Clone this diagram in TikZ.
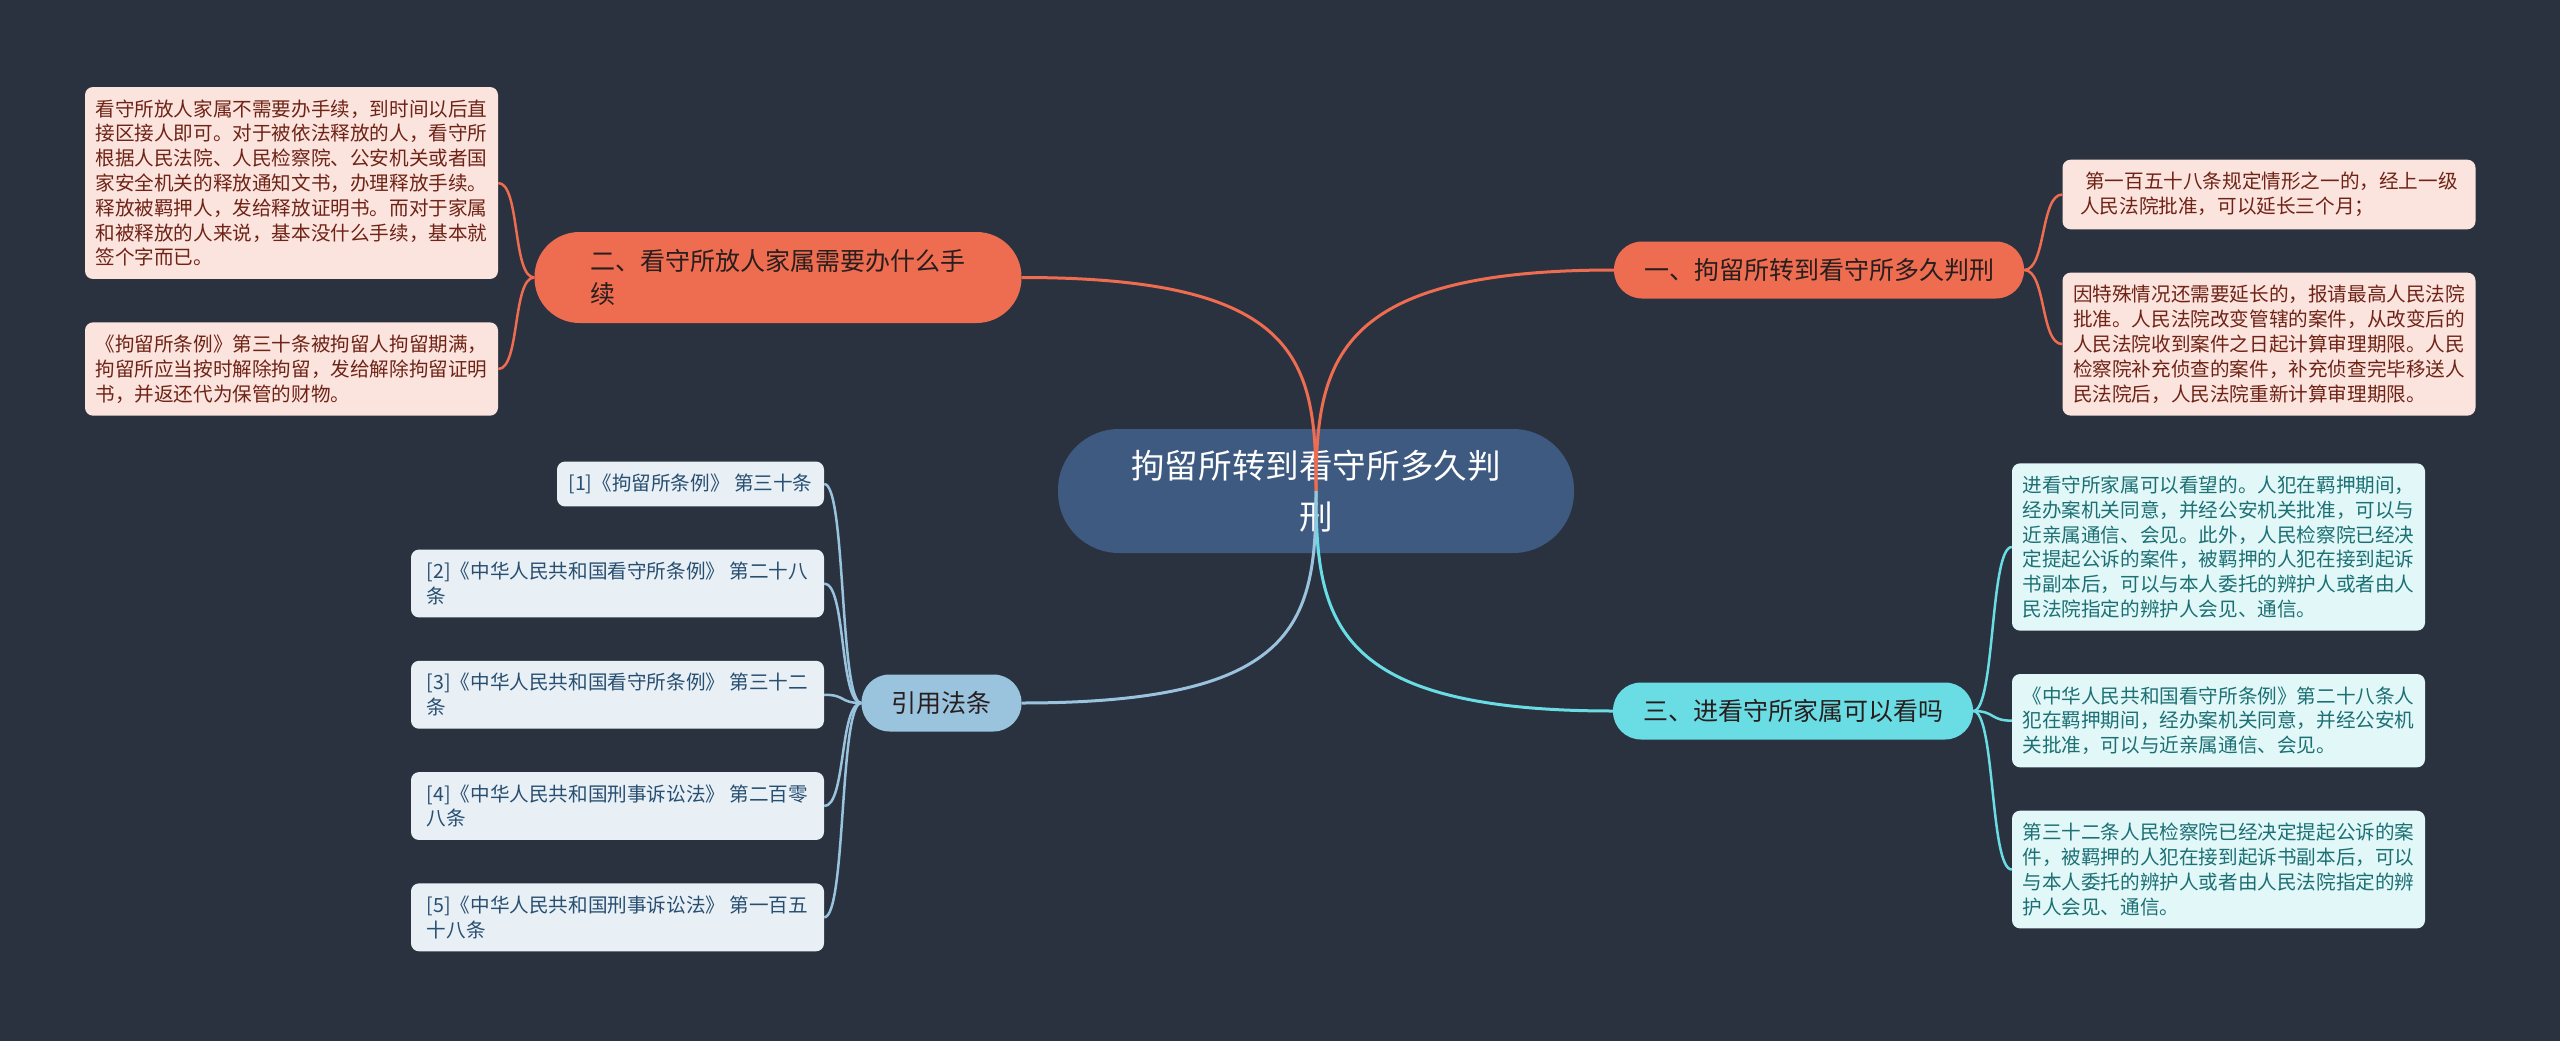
\documentclass[tikz,border=0pt]{standalone}
\usepackage{fontspec}
\setmainfont{Noto Sans CJK SC}
\usepackage{xcolor}
\usepackage{tikz}
\usetikzlibrary{positioning}
\definecolor{bgnavy}{RGB}{42,50,64}
\definecolor{rootblue}{RGB}{62,90,128}
\definecolor{coralorange}{RGB}{238,108,80}
\definecolor{coralpale}{RGB}{252,228,222}
\definecolor{coraltext}{RGB}{110,35,22}
\definecolor{aquacyan}{RGB}{106,220,228}
\definecolor{aquapale}{RGB}{226,247,248}
\definecolor{aquatext}{RGB}{28,112,116}
\definecolor{skyblue}{RGB}{154,195,222}
\definecolor{skypale}{RGB}{232,240,246}
\definecolor{skytext}{RGB}{40,78,112}
\definecolor{darkink}{RGB}{40,30,30}

\begin{document}
\begin{tikzpicture}[x=1pt, y=-1pt, node distance=43pt]
  \tikzstyle{branch} = [rectangle, rounded corners=28pt, minimum height=57pt, inner xsep=30pt, inner ysep=0pt, text=darkink, font=\fontsize{25pt}{33pt}\selectfont]
  \tikzstyle{leaf} = [rectangle, rounded corners=8pt, minimum width=413pt, inner xsep=10pt, inner ysep=12.5pt, align=left, font=\fontsize{19.6pt}{24.8pt}\selectfont]
  \tikzstyle{link} = [line width=3pt]
  \tikzstyle{twig} = [line width=2.5pt]

  \fill [bgnavy] (0,0) rectangle (2560,1041);
  \useasboundingbox (0,0) rectangle (2560,1041);

  \node (root) [rectangle, fill=rootblue, text=white, rounded corners=61pt, minimum width=516pt, minimum height=124pt, align=center, font=\fontsize{33.6pt}{51pt}\selectfont] at (1316,491) {拘留所转到看守所多久判\\刑};

  \node (branch1) [branch, fill=coralorange] at (1819,270) {一、拘留所转到看守所多久判刑};
  \node (branch2) [branch, fill=coralorange, minimum width=487pt, minimum height=91pt, rounded corners=45pt, align=left] at (778,277.5) {二、看守所放人家属需要办什么手\\续};
  \node (branch3) [branch, fill=aquacyan] at (1793,711) {三、进看守所家属可以看吗};
  \node (branch4) [branch, fill=skyblue] at (941.5,703) {引用法条};

  \node (leaf1a) [leaf, fill=coralpale, text=coraltext] at (2269,194.5) {\hspace*{5pt}第一百五十八条规定情形之一的，经上一级\\人民法院批准，可以延长三个月；};
  \node (leaf1b) [leaf, fill=coralpale, text=coraltext, below=of leaf1a] {因特殊情况还需要延长的，报请最高人民法院\\批准。人民法院改变管辖的案件，从改变后的\\人民法院收到案件之日起计算审理期限。人民\\检察院补充侦查的案件，补充侦查完毕移送人\\民法院后，人民法院重新计算审理期限。};

  \node (leaf2a) [leaf, fill=coralpale, text=coraltext] at (291.5,183) {看守所放人家属不需要办手续，到时间以后直\\接区接人即可。对于被依法释放的人，看守所\\根据人民法院、人民检察院、公安机关或者国\\家安全机关的释放通知文书，办理释放手续。\\释放被羁押人，发给释放证明书。而对于家属\\和被释放的人来说，基本没什么手续，基本就\\签个字而已。};
  \node (leaf2b) [leaf, fill=coralpale, text=coraltext, below=of leaf2a] {《拘留所条例》第三十条被拘留人拘留期满，\\拘留所应当按时解除拘留，发给解除拘留证明\\书，并返还代为保管的财物。};

  \node (leaf3a) [leaf, fill=aquapale, text=aquatext] at (2218.5,547) {进看守所家属可以看望的。人犯在羁押期间，\\经办案机关同意，并经公安机关批准，可以与\\近亲属通信、会见。此外，人民检察院已经决\\定提起公诉的案件，被羁押的人犯在接到起诉\\书副本后，可以与本人委托的辨护人或者由人\\民法院指定的辨护人会见、通信。};
  \node (leaf3b) [leaf, fill=aquapale, text=aquatext, below=of leaf3a] {《中华人民共和国看守所条例》第二十八条人\\犯在羁押期间，经办案机关同意，并经公安机\\关批准，可以与近亲属通信、会见。};
  \node (leaf3c) [leaf, fill=aquapale, text=aquatext, below=of leaf3b] {第三十二条人民检察院已经决定提起公诉的案\\件，被羁押的人犯在接到起诉书副本后，可以\\与本人委托的辨护人或者由人民法院指定的辨\\护人会见、通信。};

  \node (leaf4a) [leaf, fill=skypale, text=skytext, minimum width=267pt] at (690.5,484) {[1]《拘留所条例》 第三十条};
  \node (leaf4b) [leaf, fill=skypale, text=skytext] at (617.5,583.5) {[2]《中华人民共和国看守所条例》 第二十八\\条};
  \node (leaf4c) [leaf, fill=skypale, text=skytext, below=of leaf4b] {[3]《中华人民共和国看守所条例》 第三十二\\条};
  \node (leaf4d) [leaf, fill=skypale, text=skytext, below=of leaf4c] {[4]《中华人民共和国刑事诉讼法》 第二百零\\八条};
  \node (leaf4e) [leaf, fill=skypale, text=skytext, below=of leaf4d] {[5]《中华人民共和国刑事诉讼法》 第一百五\\十八条};

  % main branches, drawn over the root
  \draw [link, coralorange] (root.center) .. controls +(0,-130) and +(-280,0) .. (branch1.west);
  \draw [link, coralorange] (root.center) .. controls +(0,-130) and +(280,0) .. (branch2.east);
  \draw [link, aquacyan] (root.center) .. controls +(0,130) and +(-280,0) .. (branch3.west);
  \draw [link, skyblue] (root.center) .. controls +(0,130) and +(280,0) .. (branch4.east);

  % leaves
  \draw [twig, coralorange] (branch1.east) .. controls +(22,0) and +(-22,0) .. (leaf1a.west);
  \draw [twig, coralorange] (branch1.east) .. controls +(22,0) and +(-22,0) .. (leaf1b.west);
  \draw [twig, coralorange] (branch2.west) .. controls +(-22,0) and +(22,0) .. (leaf2a.east);
  \draw [twig, coralorange] (branch2.west) .. controls +(-22,0) and +(22,0) .. (leaf2b.east);
  \draw [twig, aquacyan] (branch3.east) .. controls +(22,0) and +(-22,0) .. (leaf3a.west);
  \draw [twig, aquacyan] (branch3.east) .. controls +(22,0) and +(-22,0) .. (leaf3b.west);
  \draw [twig, aquacyan] (branch3.east) .. controls +(22,0) and +(-22,0) .. (leaf3c.west);
  \draw [twig, skyblue] (branch4.west) .. controls +(-22,0) and +(22,0) .. (leaf4a.east);
  \draw [twig, skyblue] (branch4.west) .. controls +(-22,0) and +(22,0) .. (leaf4b.east);
  \draw [twig, skyblue] (branch4.west) .. controls +(-22,0) and +(22,0) .. (leaf4c.east);
  \draw [twig, skyblue] (branch4.west) .. controls +(-22,0) and +(22,0) .. (leaf4d.east);
  \draw [twig, skyblue] (branch4.west) .. controls +(-22,0) and +(22,0) .. (leaf4e.east);
\end{tikzpicture}
\end{document}
